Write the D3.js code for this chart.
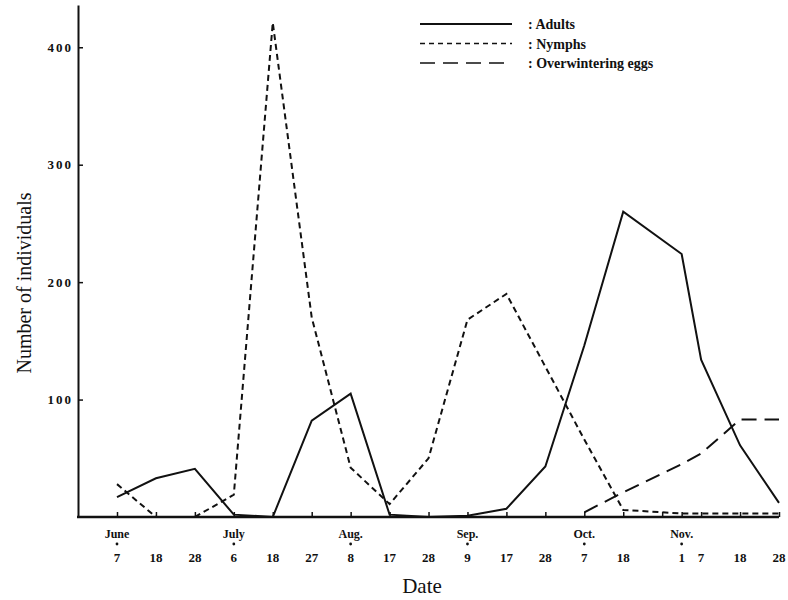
<!DOCTYPE html>
<html>
<head>
<meta charset="utf-8">
<script src="https://cdn.jsdelivr.net/npm/d3@7"></script>
<style>
  body { margin: 0; background: #fff; }
  text { font-family: "Liberation Serif", "DejaVu Serif", serif; fill: #111; }
</style>
</head>
<body>
<div id="vizContainer"></div>
<script>
// sampling dates, placed on a ten-day period axis (Nov 1 falls between periods)
var sampleDays = ["7", "18", "28", "6", "18", "27", "8", "17", "28", "9", "17", "28", "7", "18", "1", "7", "18", "28"];
var samplePeriods = [0, 1, 2, 3, 4, 5, 6, 7, 8, 9, 10, 11, 12, 13, 14.5, 15, 16, 17];
var tickPeriods = [0, 1, 2, 3, 4, 5, 6, 7, 8, 9, 10, 11, 12, 13, 14, 14.5, 15, 16, 17];

var months = ["June", "July", "Aug.", "Sep.", "Oct.", "Nov."];
var monthPeriods = [0, 3, 6, 9, 12, 14.5];

// counts
var adults = [17, 33, 41, 2, 0, 82, 105, 2, 0, 1, 7, 43, 146, 260, 224, 134, 61, 12];
var nymphs = [28, 0, 0, 19, 421, 170, 42, 11, 50, 168, 190, 128, 66, 6, 3, 3, 3, 3];
var eggs = [null, null, null, null, null, null, null, null, null, null, null, null, 4, 21, 45, 54, 83, 83];

var yTicks = [100, 200, 300, 400];

var series = [
    { name: ": Adults", values: adults, dash: null },
    { name: ": Nymphs", values: nymphs, dash: "6,4" },
    { name: ": Overwintering eggs", values: eggs, dash: "15,8" }
];

var width = 788, height = 600;

var x = d3.scaleLinear().domain([0, 17]).range([117, 779]);
var y = d3.scaleLinear().domain([0, 436]).range([517, 5]);

var svg = d3.select('#vizContainer').append('svg')
    .attr('width', width)
    .attr('height', height)
    .attr('viewBox', '0 0 ' + width + ' ' + height);

// y axis, ticks pointing into the plot
var yAxis = svg.append('g')
    .attr('transform', 'translate(78,0)')
    .call(d3.axisLeft(y).tickValues(yTicks).tickSizeInner(-5).tickSizeOuter(0).tickPadding(5));
yAxis.select('.domain').attr('stroke', '#111').attr('stroke-width', 2);
yAxis.selectAll('.tick line').attr('stroke', '#111').attr('stroke-width', 1.5);
yAxis.selectAll('.tick text')
    .attr('font-size', 13).attr('font-weight', 'bold')
    .attr('font-family', '"Liberation Serif", serif')
    .attr('fill', '#111')
    .style('letter-spacing', '2px');

// x axis line and ticks
var xAxis = svg.append('g')
    .attr('transform', 'translate(0,517)')
    .call(d3.axisBottom(x).tickValues(tickPeriods).tickSizeInner(-5).tickSizeOuter(0).tickFormat(''));
xAxis.select('.domain').remove();
xAxis.selectAll('.tick line').attr('stroke', '#111').attr('stroke-width', 1.5);
svg.append('line')
    .attr('x1', 77).attr('x2', x(17))
    .attr('y1', 517).attr('y2', 517)
    .attr('stroke', '#111').attr('stroke-width', 2.5);

// day labels under the axis
svg.append('g').selectAll('text')
    .data(sampleDays)
    .join('text')
    .attr('x', function(d, i){ return x(samplePeriods[i]); })
    .attr('y', 562)
    .attr('text-anchor', 'middle')
    .attr('font-size', 13).attr('font-weight', 'bold')
    .text(function(d){ return d; });

// month labels with a dot marking the first sample of each month
svg.append('g').selectAll('text')
    .data(months)
    .join('text')
    .attr('x', function(d, i){ return x(monthPeriods[i]); })
    .attr('y', 538)
    .attr('text-anchor', 'middle')
    .attr('font-size', 12).attr('font-weight', 'bold')
    .text(function(d){ return d; });
svg.append('g').selectAll('circle')
    .data(monthPeriods)
    .join('circle')
    .attr('cx', function(d){ return x(d); })
    .attr('cy', 544)
    .attr('r', 1.4)
    .attr('fill', '#111');

// the three series
var line = d3.line()
    .defined(function(d){ return d !== null; })
    .x(function(d, i){ return x(samplePeriods[i]); })
    .y(function(d){ return y(d); });

svg.append('g').selectAll('path')
    .data(series)
    .join('path')
    .attr('d', function(s){ return line(s.values); })
    .attr('fill', 'none')
    .attr('stroke', '#111')
    .attr('stroke-width', 2)
    .attr('stroke-dasharray', function(s){ return s.dash; });

// legend
var legend = svg.append('g').selectAll('g')
    .data(series)
    .join('g')
    .attr('transform', function(d, i){ return 'translate(420,' + (24 + i * 19.5) + ')'; });
legend.append('line')
    .attr('x1', 0).attr('x2', 92)
    .attr('stroke', '#111')
    .attr('stroke-width', function(d){ return d.dash ? 1.4 : 2; })
    .attr('stroke-dasharray', function(d){ return d.dash == "6,4" ? "5,4" : d.dash; });
legend.append('text')
    .attr('x', 108).attr('y', 5)
    .attr('font-size', 14).attr('font-weight', 'bold')
    .text(function(d){ return d.name; });

// axis titles
svg.append('text')
    .attr('x', 422).attr('y', 593)
    .attr('text-anchor', 'middle')
    .attr('font-size', 21)
    .text('Date');
svg.append('text')
    .attr('transform', 'translate(31,283) rotate(-90)')
    .attr('text-anchor', 'middle')
    .attr('font-size', 20)
    .text('Number of individuals');
</script>
</body>
</html>
